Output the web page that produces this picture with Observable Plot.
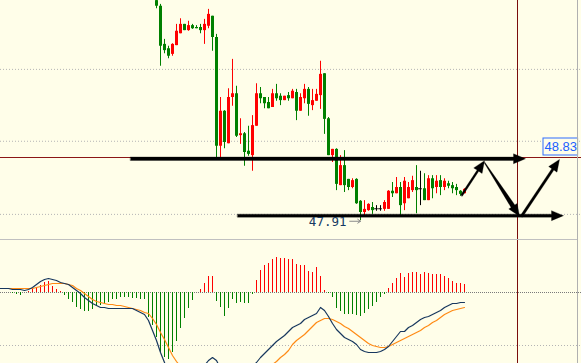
<!DOCTYPE html>
<html><head><meta charset="utf-8">
<script src="https://cdn.jsdelivr.net/npm/d3@7"></script>
<script src="https://cdn.jsdelivr.net/npm/@observablehq/plot@0.6"></script>
<style>
html,body{margin:0;padding:0;background:#fffee9;}
#chart{position:relative;width:581px;height:363px;background:#fffee9;overflow:hidden;}
#chart svg{position:absolute;left:0;}
.sep{position:absolute;background:#c0c0c0;}
</style></head><body><div id="chart"></div>
<script>
// ---- price candles (index 0 = first visible bar) ----
const open  = [51.34,51.25,50.64,50.57,50.48,50.62,50.81,50.96,50.86,50.94,50.91,50.91,50.86,50.93,51.09,50.75,49.01,49.57,49.05,49.79,49.85,49.18,49.21,48.93,48.86,49.33,49.85,49.79,49.71,49.63,49.85,49.81,49.74,49.82,49.77,49.87,49.57,49.77,49.92,49.66,49.73,49.82,50.17,49.45,48.86,48.96,48.38,48.70,48.48,48.35,48.48,48.13,47.95,47.98,48.03,48.01,48.01,48.00,48.00,48.29,48.25,48.35,48.09,48.17,48.30,48.35,48.33,48.33,48.14,48.49,48.35,48.46,48.35,48.41,48.38,48.35,48.29,48.25];
const high  = [51.40,51.28,50.72,50.61,50.65,50.96,51.05,50.96,51.01,50.96,50.94,50.96,51.04,51.20,51.09,50.80,49.79,49.58,49.93,50.40,49.97,49.45,49.23,49.33,49.50,50.01,49.95,49.79,49.79,49.92,50.00,49.85,49.81,49.87,49.92,49.92,49.85,50.00,49.95,49.92,49.92,50.37,50.17,49.47,48.96,48.97,48.86,48.94,48.48,48.49,48.49,48.14,48.14,48.09,48.11,48.06,48.06,48.14,48.30,48.43,48.51,48.43,48.51,48.43,48.53,48.70,48.61,48.57,48.54,48.54,48.54,48.54,48.49,48.45,48.43,48.40,48.30,48.33];
const low   = [51.21,50.29,50.49,50.41,50.45,50.62,50.81,50.86,50.85,50.88,50.89,50.81,50.64,50.89,50.53,48.83,48.83,48.97,49.05,49.65,49.15,49.04,48.69,48.85,48.61,49.33,49.69,49.61,49.61,49.63,49.73,49.66,49.74,49.73,49.77,49.42,49.57,49.69,49.49,49.58,49.73,49.60,49.20,48.86,48.75,48.30,48.38,48.27,48.30,48.33,48.08,47.82,47.90,47.97,47.92,47.97,47.97,47.97,48.00,48.19,48.25,47.90,47.98,48.17,48.27,47.93,48.06,48.14,48.14,48.17,48.25,48.22,48.30,48.33,48.25,48.22,48.21,48.25];
const close = [51.25,50.61,50.54,50.45,50.64,50.85,50.96,50.86,50.94,50.89,50.89,50.86,50.96,51.12,50.75,49.01,49.57,49.07,49.79,49.85,49.17,49.21,48.91,48.88,49.34,49.85,49.77,49.69,49.61,49.85,49.77,49.74,49.81,49.77,49.89,49.57,49.79,49.92,49.68,49.74,49.84,50.16,49.44,48.86,48.96,48.40,48.70,48.38,48.35,48.46,48.09,47.95,48.00,48.08,47.98,48.01,48.01,48.11,48.29,48.25,48.35,48.06,48.45,48.35,48.46,48.30,48.33,48.14,48.49,48.33,48.45,48.35,48.45,48.37,48.33,48.30,48.24,48.32];

// ---- MACD panel ----
const lineStart = -39;   // bar index of first MACD / signal value
const macdLine = [0.02,0.02,0.02,0.015,0.015,0.015,0.01,0.015,0.025,0.04,
 0.055,0.065,0.07,0.065,0.06,0.05,0.045,0.04,0.025,0.01,
 -0.005,-0.025,-0.04,-0.055,-0.065,-0.075,-0.075,-0.08,-0.08,-0.08,
 -0.08,-0.08,-0.08,-0.08,-0.09,-0.1,-0.11,-0.14,-0.19,-0.24,
 -0.3,-0.35,-0.4,-0.44,-0.47,-0.49,-0.49,-0.48,-0.46,-0.43,
 -0.4,-0.365,-0.34,-0.325,-0.34,-0.38,-0.42,-0.44,-0.45,-0.44,
 -0.425,-0.41,-0.39,-0.37,-0.35,-0.325,-0.305,-0.285,-0.265,-0.245,
 -0.23,-0.215,-0.195,-0.175,-0.165,-0.155,-0.135,-0.125,-0.115,-0.105,
 -0.075,-0.09,-0.12,-0.155,-0.185,-0.205,-0.225,-0.235,-0.245,-0.26,
 -0.285,-0.295,-0.3,-0.3,-0.3,-0.295,-0.285,-0.27,-0.245,-0.22,
 -0.195,-0.195,-0.175,-0.165,-0.15,-0.135,-0.125,-0.12,-0.11,-0.1,
 -0.09,-0.075,-0.065,-0.055,-0.055,-0.05,-0.05];
const signalLine = [0.02,0.02,0.02,0.02,0.02,0.02,0.02,0.02,0.02,0.025,
 0.03,0.035,0.04,0.045,0.045,0.045,0.045,0.04,0.035,0.02,
 0.01,-0.005,-0.02,-0.035,-0.045,-0.05,-0.055,-0.06,-0.06,-0.065,
 -0.065,-0.07,-0.075,-0.08,-0.085,-0.09,-0.1,-0.105,-0.13,-0.16,
 -0.2,-0.235,-0.275,-0.315,-0.345,-0.37,-0.39,-0.405,-0.415,-0.42,
 -0.42,-0.415,-0.41,-0.405,-0.405,-0.41,-0.42,-0.425,-0.43,-0.43,
 -0.43,-0.425,-0.42,-0.415,-0.405,-0.395,-0.385,-0.375,-0.36,-0.345,
 -0.325,-0.31,-0.29,-0.26,-0.24,-0.225,-0.21,-0.19,-0.17,-0.15,
 -0.14,-0.13,-0.13,-0.135,-0.145,-0.155,-0.17,-0.18,-0.195,-0.21,
 -0.225,-0.24,-0.255,-0.265,-0.27,-0.275,-0.275,-0.27,-0.26,-0.25,
 -0.24,-0.23,-0.22,-0.21,-0.2,-0.19,-0.175,-0.165,-0.15,-0.14,
 -0.125,-0.11,-0.1,-0.09,-0.085,-0.08,-0.075];
const histStart = -36;
const histogram = [-0.005,-0.01,-0.015,0,0.005,0.015,0.025,0.035,0.05,0.055,
 0.03,0.015,0.005,-0.015,-0.035,-0.05,-0.075,-0.085,-0.095,-0.095,
 -0.085,-0.07,-0.065,-0.06,-0.05,-0.035,-0.035,-0.025,-0.025,-0.025,
 -0.03,-0.03,-0.035,-0.035,-0.125,-0.165,-0.225,-0.3,-0.325,-0.335,
 -0.3,-0.245,-0.18,-0.13,-0.08,-0.04,0,0.015,0.045,0.08,
 0.08,-0.045,-0.075,-0.12,-0.08,-0.035,-0.055,-0.05,-0.055,-0.055,
 -0.01,0.06,0.11,0.135,0.145,0.165,0.175,0.17,0.17,0.165,
 0.165,0.14,0.135,0.135,0.105,0.1,0.125,0.08,0.01,-0.005,
 -0.025,-0.08,-0.095,-0.11,-0.11,-0.11,-0.115,-0.12,-0.105,-0.085,
 -0.07,-0.05,-0.025,-0.01,0.02,0.045,0.07,0.095,0.075,0.095,
 0.1,0.1,0.09,0.1,0.095,0.09,0.09,0.09,0.08,0.07,
 0.055,0.045,0.045,0.04];

// ---- levels, labels, drawn arrows ----
const priceGrid = [50.24, 49.09, 47.92];
const macdGrid = [-0.265];
const bidPrice = 48.83;
const lowPrice = 47.91;
const cursorIndex = 90.25;
const arrowX1 = [-6.5, 20.25, 76.25, 82, 91.25];
const arrowY1 = [48.81, 47.90, 48.22, 48.75, 47.89];
const arrowX2 = [92.25, 101.75, 82, 90.75, 100.75];
const arrowY2 = [48.81, 47.90, 48.78, 47.89, 48.80];
const arrowStartW = [3.5, 3, 2, 0.8, 2.6];   // shaft width at start (px)
const arrowEndW   = [3.5, 3, 2, 4.5, 2.6];   // shaft width near head (px)

const BG = "#fffee9";
const X_DOMAIN = [-39, 106.25], X_RANGE = [0, 581];
const Y_DOMAIN = [47.518, 51.342], Y_RANGE = [239, 0];
const xScale = {domain: X_DOMAIN, range: X_RANGE, axis: null};

const candles = open.map((o, k) => ({
  i: k, o, h: high[k], l: low[k], c: close[k],
  col: close[k] > o ? "#ff0000" : close[k] < o ? "#008000" : "#000000"
}));

// filled arrow polygons, built in pixel space from the arrow data, then mapped back to data units
const sx = d3.scaleLinear(X_DOMAIN, X_RANGE), sy = d3.scaleLinear(Y_DOMAIN, Y_RANGE);
const arrowPts = [];
arrowX1.forEach((v, k) => {
  const x1 = sx(v), y1 = sy(arrowY1[k]), x2 = sx(arrowX2[k]), y2 = sy(arrowY2[k]);
  const len = Math.hypot(x2 - x1, y2 - y1), ux = (x2 - x1) / len, uy = (y2 - y1) / len;
  const nx = -uy, ny = ux, L = 12, W = 5;
  const bx = x2 - ux * L, by = y2 - uy * L;
  const s0 = arrowStartW[k] / 2, s1 = arrowEndW[k] / 2;
  const poly = [
    [x1 + nx * s0, y1 + ny * s0], [bx + nx * s1, by + ny * s1], [bx + nx * W, by + ny * W],
    [x2, y2], [bx - nx * W, by - ny * W], [bx - nx * s1, by - ny * s1], [x1 - nx * s0, y1 - ny * s0]
  ];
  poly.forEach(([px, py]) => arrowPts.push({id: k, x: sx.invert(px), y: sy.invert(py)}));
});

const main = Plot.plot({
  width: 581, height: 239, margin: 0,
  x: xScale,
  y: {domain: Y_DOMAIN, range: Y_RANGE, axis: null},
  color: {type: "identity"},
  style: {background: "transparent", overflow: "hidden"},
  marks: [
    Plot.ruleY(priceGrid, {stroke: "#b4b4b4", strokeDasharray: "1,2"}),
    Plot.ruleY([bidPrice], {stroke: "#8b1616"}),
    Plot.ruleX([cursorIndex], {stroke: "#7a0c0c"}),
    Plot.ruleX(candles, {x: "i", y1: "l", y2: "h", stroke: "col"}),
    Plot.ruleX(candles.filter(d => d.o !== d.c), {x: "i", y1: "o", y2: "c", stroke: "col", strokeWidth: 3}),
    Plot.ruleY(candles.filter(d => d.o === d.c), {y: "o", x1: d => d.i - 0.45, x2: d => d.i + 0.45, stroke: "col"}),
    Plot.line(arrowPts, {x: "x", y: "y", z: "id", fill: "#000", stroke: "#000", strokeWidth: 0.3, curve: "linear-closed"}),
    Plot.text([{x: 47.5, y: 47.805, t: lowPrice.toFixed(2)}], {x: "x", y: "y", text: "t", textAnchor: "end", fill: "#163a63", fontSize: 12.5, fontFamily: "DejaVu Sans Mono"}),
    Plot.arrow([{x1: 48.3, x2: 51, y: 47.81}], {x1: "x1", x2: "x2", y1: "y", y2: "y", stroke: "#8a8a8a", strokeWidth: 1, headLength: 5, headAngle: 70}),
    Plot.rect([{x1: 96.75, x2: 105.4, y1: 48.862, y2: 49.134}], {x1: "x1", x2: "x2", y1: "y1", y2: "y2", fill: BG, stroke: "#2f6cff"}),
    Plot.text([{x: 101.05, y: 48.995, t: bidPrice.toFixed(2)}], {x: "x", y: "y", text: "t", fill: "#2060ff", fontSize: 13, fontFamily: "Liberation Sans"})
  ]
});
main.style.top = "0px";

const macdData = macdLine.map((v, k) => ({i: lineStart + k, v}));
const sigData = signalLine.map((v, k) => ({i: lineStart + k, v}));
const histData = histogram.map((v, k) => ({i: histStart + k, v, col: v >= 0 ? "#ff0000" : "#008000"}));

const macd = Plot.plot({
  width: 581, height: 123, margin: 0,
  x: xScale,
  y: {domain: [-0.355, 0.26], range: [123, 0], axis: null},
  color: {type: "identity"},
  style: {background: "transparent", overflow: "hidden"},
  marks: [
    Plot.ruleY(macdGrid, {stroke: "#b4b4b4", strokeDasharray: "1,2"}),
    Plot.ruleY([0], {stroke: "#7a7a7a", strokeDasharray: "1,1"}),
    Plot.ruleX(histData.filter(d => d.v !== 0), {x: "i", y1: 0, y2: "v", stroke: "col", strokeWidth: 1}),
    Plot.line(sigData, {x: "i", y: "v", stroke: "#ff8a14", strokeWidth: 1.2}),
    Plot.line(macdData, {x: "i", y: "v", stroke: "#17375e", strokeWidth: 1.2}),
    Plot.ruleX([cursorIndex], {stroke: "#7a0c0c"})
  ]
});
macd.style.top = "240px";

const chart = document.getElementById("chart");
chart.appendChild(main);
chart.appendChild(macd);
const sepH = document.createElement("div");
sepH.className = "sep"; sepH.style.cssText = "left:0;top:239px;width:578px;height:1px;";
const sepV = document.createElement("div");
sepV.className = "sep"; sepV.style.cssText = "left:577px;top:0;width:1px;height:363px;background:#b0b0b0;";
chart.appendChild(sepH);
chart.appendChild(sepV);
</script></body></html>
